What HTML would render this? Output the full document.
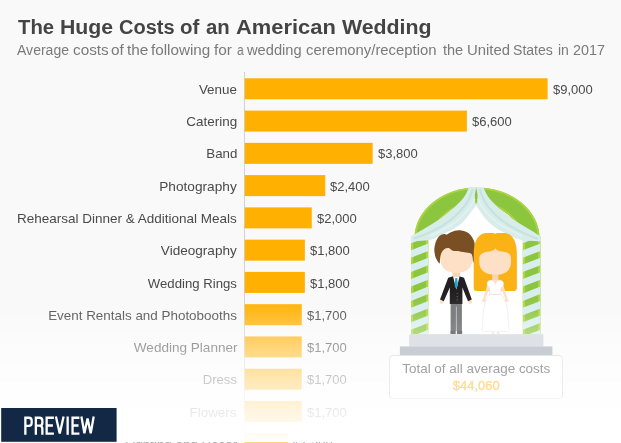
<!DOCTYPE html>
<html><head><meta charset="utf-8"><title>The Huge Costs of an American Wedding</title>
<style>
html,body{margin:0;padding:0;}
body{width:621px;height:443px;overflow:hidden;background:#f9f9f9;position:relative;font-family:"Liberation Sans",sans-serif;}
#t{position:absolute;left:0;top:15.3px;font-size:20px;font-weight:bold;color:#444;line-height:24px}
#t span,#s span{position:absolute;top:0;white-space:nowrap;transform-origin:0 0;will-change:transform}
#s{position:absolute;left:0;top:40.8px;font-size:14px;color:#7a7a7a;line-height:18px}
#ax{position:absolute;left:244px;top:72px;width:1px;height:371px;background:#d2d2d6}
.lb{position:absolute;right:384px;height:21px;line-height:22px;will-change:transform;font-size:13px;color:#4a4a4a;white-space:nowrap;text-align:right;transform-origin:100% 50%}
.bar{position:absolute;left:244.75px;height:21px;background:#ffb000}
.vl{position:absolute;height:21px;line-height:22px;will-change:transform;font-size:13px;color:#4a4a4a;white-space:nowrap}
#il,#il2,#bars{position:absolute;left:0;top:0}
#box{position:absolute;left:388.5px;top:355px;width:172.5px;height:42px;border:1px solid;border-color:#e6e6e6 #ececec #f3f3f3 #ececec;border-radius:4.5px;background:#fff;text-align:center}
#box .a{will-change:transform;font-size:13px;color:#a2a2a2;line-height:16px;margin-top:4.6px;transform:scaleX(1.035)}
#box .b{will-change:transform;font-size:13px;color:#ffdc90;-webkit-text-stroke:0.35px #ffdc90;line-height:16px;margin-top:1.5px}
#fade{position:absolute;left:0;top:291px;width:621px;height:150.5px;background:linear-gradient(to bottom,rgba(255,255,255,0) 0.00%,rgba(255,255,255,0.03) 5.98%,rgba(255,255,255,0.12) 13.95%,rgba(255,255,255,0.47) 37.21%,rgba(255,255,255,0.7) 58.47%,rgba(255,255,255,0.88) 79.73%,rgba(255,255,255,0.97) 97.01%,rgba(255,255,255,1) 100.00%)}
#fade2{position:absolute;left:0;top:441.5px;width:621px;height:2px;background:rgba(255,255,255,0.5)}
#pv{position:absolute;left:0;top:0}
</style></head><body>
<div id="t"><span style="left:17.81px;transform:scaleX(1.0135)">The</span><span style="left:60.15px;transform:scaleX(1.0621)">Huge</span><span style="left:119.17px;transform:scaleX(0.9974)">Costs</span><span style="left:179.78px;transform:scaleX(1.0242)">of</span><span style="left:206.1px;transform:scaleX(1.0178)">an</span><span style="left:236.43px;transform:scaleX(1.0948)">American</span><span style="left:342.37px;transform:scaleX(1.0652)">Wedding</span></div>
<div id="s"><span style="left:16.81px;transform:scaleX(1.0029)">Average</span><span style="left:72.91px;transform:scaleX(1.0932)">costs</span><span style="left:111.16px;transform:scaleX(1.1)">of</span><span style="left:126.86px;transform:scaleX(1.1)">the</span><span style="left:150.64px;transform:scaleX(1.0875)">following</span><span style="left:213.93px;transform:scaleX(1.1)">for</span><span style="left:236.6px;transform:scaleX(0.88)">a</span><span style="left:247.42px;transform:scaleX(1.0478)">wedding</span><span style="left:306.26px;transform:scaleX(1.0616)">ceremony/reception</span><span style="left:442.67px;transform:scaleX(1.0382)">the</span><span style="left:466.94px;transform:scaleX(1.0631)">United</span><span style="left:513.37px;transform:scaleX(1.0047)">States</span><span style="left:557.67px;transform:scaleX(0.98)">in</span><span style="left:573.36px;transform:scaleX(1.0266)">2017</span></div>
<div id="ax"></div>
<div class="lb" style="top:79px;transform:scaleX(1.030)">Venue</div>
<div class="vl" style="top:79px;left:552.7px">$9,000</div>
<div class="lb" style="top:111px;transform:scaleX(1.035)">Catering</div>
<div class="vl" style="top:111px;left:472.0px">$6,600</div>
<div class="lb" style="top:143px;transform:scaleX(1.023)">Band</div>
<div class="vl" style="top:143px;left:377.8px">$3,800</div>
<div class="lb" style="top:176px;transform:scaleX(1.051)">Photography</div>
<div class="vl" style="top:176px;left:330.4px">$2,400</div>
<div class="lb" style="top:208px;transform:scaleX(1.038)">Rehearsal Dinner &amp; Additional Meals</div>
<div class="vl" style="top:208px;left:316.9px">$2,000</div>
<div class="lb" style="top:240px;transform:scaleX(1.043)">Videography</div>
<div class="vl" style="top:240px;left:310.0px">$1,800</div>
<div class="lb" style="top:273px;transform:scaleX(1.013)">Wedding Rings</div>
<div class="vl" style="top:273px;left:310.0px">$1,800</div>
<div class="lb" style="top:305px;transform:scaleX(1.032)">Event Rentals and Photobooths</div>
<div class="vl" style="top:305px;left:306.9px">$1,700</div>
<div class="lb" style="top:337px;transform:scaleX(1.042)">Wedding Planner</div>
<div class="vl" style="top:337px;left:306.9px">$1,700</div>
<div class="lb" style="top:369px;transform:scaleX(1.009)">Dress</div>
<div class="vl" style="top:369px;left:306.9px">$1,700</div>
<div class="lb" style="top:402px;transform:scaleX(1.033)">Flowers</div>
<div class="vl" style="top:402px;left:306.9px">$1,700</div>
<div class="lb" style="top:434px;transform:scaleX(1.028)">Lighting and Decor</div>
<div class="vl" style="top:434px;left:293.4px">$1,300</div>
<svg id="bars" width="621" height="443" viewBox="0 0 621 443"><g fill="#ffb000"><rect x="244.75" y="78.30" width="302.85" height="21"/><rect x="244.75" y="110.57" width="222.10" height="21"/><rect x="244.75" y="142.84" width="127.90" height="21"/><rect x="244.75" y="175.11" width="80.50" height="21"/><rect x="244.75" y="207.38" width="67.00" height="21"/><rect x="244.75" y="239.65" width="60.10" height="21"/><rect x="244.75" y="271.92" width="60.10" height="21"/><rect x="244.75" y="304.19" width="57.00" height="21"/><rect x="244.75" y="336.46" width="57.00" height="21"/><rect x="244.75" y="368.73" width="57.00" height="21"/><rect x="244.75" y="401.00" width="57.00" height="21"/><rect x="244.75" y="433.27" width="43.50" height="21"/></g></svg>
<svg id="il" width="621" height="443" viewBox="0 0 621 443">
<defs>
<clipPath id="cl"><rect x="411" y="236" width="17.3" height="98.3"/></clipPath>
<clipPath id="cr"><rect x="522.8" y="236" width="17.6" height="98.3"/></clipPath>
<linearGradient id="tg" x1="0" y1="0" x2="0" y2="1"><stop offset="0" stop-color="#76777a"/><stop offset="1" stop-color="#515255"/></linearGradient>
</defs>
<!-- interior white -->
<path d="M428 334.3 L428 238 A49 40 0 0 1 523 238 L523 334.3 Z" fill="#fff"/>
<!-- arch -->
<path d="M414.5 238.5 A62.5 51 0 0 1 539.5 238.5 L520 238.5 A43 34.5 0 0 0 434 238.5 Z" fill="#8cc63f"/>
<path d="M415.4 238.5 A61.6 50.1 0 0 1 538.6 238.5" fill="none" stroke="#abd443" stroke-width="1.9"/>
<path d="M432.9 238.5 A44.1 35.6 0 0 1 521.1 238.5" fill="none" stroke="#a9d240" stroke-width="2.2"/>
<!-- columns -->
<g clip-path="url(#cl)">
<rect x="411" y="236" width="18" height="99" fill="#8cc63f"/>
<rect x="411" y="236" width="2.3" height="99" fill="#b0d443"/>
<rect x="426" y="236" width="2.3" height="99" fill="#b0d443"/>
<path fill="#d7eeec" d="M411 243.3 l17.3 -6.8 v-7.5 l-17.3 6.8z M411 257.7 l17.3 -6.8 v-7.5 l-17.3 6.8z M411 272.1 l17.3 -6.8 v-7.5 l-17.3 6.8z M411 286.5 l17.3 -6.8 v-7.5 l-17.3 6.8z M411 300.9 l17.3 -6.8 v-7.5 l-17.3 6.8z M411 315.3 l17.3 -6.8 v-7.5 l-17.3 6.8z M411 329.7 l17.3 -6.8 v-7.5 l-17.3 6.8z M411 344.1 l17.3 -6.8 v-7.5 l-17.3 6.8z M411 358.5 l17.3 -6.8 v-7.5 l-17.3 6.8z "/>
</g>
<g clip-path="url(#cr)">
<rect x="522" y="236" width="19" height="99" fill="#8cc63f"/>
<rect x="522.8" y="236" width="2.3" height="99" fill="#b0d443"/>
<rect x="538.1" y="236" width="2.3" height="99" fill="#b0d443"/>
<path fill="#d7eeec" d="M522.8 243.3 l17.6 -6.8 v-7.5 l-17.6 6.8z M522.8 257.7 l17.6 -6.8 v-7.5 l-17.6 6.8z M522.8 272.1 l17.6 -6.8 v-7.5 l-17.6 6.8z M522.8 286.5 l17.6 -6.8 v-7.5 l-17.6 6.8z M522.8 300.9 l17.6 -6.8 v-7.5 l-17.6 6.8z M522.8 315.3 l17.6 -6.8 v-7.5 l-17.6 6.8z M522.8 329.7 l17.6 -6.8 v-7.5 l-17.6 6.8z M522.8 344.1 l17.6 -6.8 v-7.5 l-17.6 6.8z M522.8 358.5 l17.6 -6.8 v-7.5 l-17.6 6.8z "/>
</g>
<!-- drapes -->
<path d="M469 187 L476.2 187 L474.8 195 L475.2 202.5 L476.2 204.6 C474 208 472 211 469.3 214.3 C467 217.5 464.5 220.5 461.9 223.2 C459.5 225.2 457 227 454.4 228.4 C452 229.7 449.5 231 447 232 C444 233.5 440.5 235.4 437 237.2 C435 238.2 432 239.4 428.5 240.3 L411.3 241.6 L411.3 236 C414 234.6 417 233 419.9 231.2 C422.5 229.8 425 228.3 427.4 226.7 C430 225.3 432.5 223.8 434.8 222.2 C437.5 220.5 440 218.8 442.3 217 C445 215.2 447.5 213.2 449.7 211.1 C452.5 209 455 206.8 457.2 204.4 C460.5 201.5 463.3 198.6 465 195.4 C466.5 193 468 190 469 187 Z" fill="#d8ecea"/>
<path d="M483.4 187 L476.2 187 L477.6 195 L477.2 202.5 L476.2 204.6 C477 206.5 478 208.2 479 209.8 C480.7 212.4 482.4 214.9 484.2 217.2 C486.6 220 489 222.5 491.7 224.7 C494 226.6 496.5 228.4 499.1 229.9 C501.6 231.3 504.2 232.5 507 233.9 C510 235.5 513 237 515.8 238.2 C518 239 520.4 239.7 522.6 240.2 L540.6 241.6 L540.6 236.3 C538 235 535.2 233 532.5 231.2 C530 229.8 527.4 228.3 525 226.7 C522.4 225.3 520 223.8 517.6 222.2 C515 220.5 512.4 218.8 510.1 217 C507.4 215.2 505 213.2 502.7 211.1 C500 209 497.4 206.8 495.2 204.4 C492 201.5 489.1 198.6 487.4 195.4 C485.9 193 484.4 190 483.4 187 Z" fill="#d8ecea"/>
<path d="M472.5 189 C470.5 200 462 211 450 220.5 C440 228 428 234 414 238.6" fill="none" stroke="#c6e2df" stroke-width="2"/>
<path d="M474.6 199 C470 209 462 217.5 452 224.5 C445 229 438 232.5 430 236" fill="none" stroke="#e4f3f1" stroke-width="1.5"/>
<path d="M480 189 C482 200 490 211 502 220.5 C512 228 524 234 538 239" fill="none" stroke="#c6e2df" stroke-width="2"/>
<path d="M477.8 199 C482 209 490 217.5 500 224.5 C507 229 514 232.5 522 236" fill="none" stroke="#e4f3f1" stroke-width="1.5"/>
<!-- groom -->
<rect x="452.6" y="270" width="7.4" height="9" fill="#f9d3b4"/>
<path d="M440.4 246 L472.4 246 L472.4 259 C472.4 268 466 273 456.5 273 C447 273 440.4 268 440.4 259 Z" fill="#fde0c5"/>
<path d="M439.3 263.5 C438.6 262.9 436.4 259.6 435.6 257.3 C434.8 255.0 434.3 252.3 434.3 249.8 C434.3 247.3 435.0 244.5 435.6 242.4 C436.2 240.3 437.2 238.7 438.1 237.4 C439.0 236.1 440.2 235.3 441.2 234.7 C442.2 234.1 443.4 233.9 444.3 233.9 C445.2 233.9 446.0 234.8 446.9 234.6 C447.8 234.4 448.6 233.3 449.9 232.7 C451.2 232.1 453.1 231.2 454.8 230.8 C456.5 230.4 457.9 230.0 459.8 230.2 C461.7 230.4 464.1 230.9 466.0 231.8 C467.9 232.7 469.6 233.9 470.9 235.5 C472.2 237.1 473.3 239.1 474.0 241.1 C474.7 243.1 474.8 244.8 474.9 247.3 C475.0 249.8 475.0 253.4 474.7 256.0 C474.4 258.6 473.6 262.7 473.2 262.8 C472.8 262.9 472.9 258.2 472.4 256.6 C471.9 255.0 472.2 254.1 470.3 253.3 C468.4 252.5 463.6 252.1 461.0 251.7 C458.4 251.3 456.4 251.3 454.8 251.1 C453.2 250.8 452.7 250.7 451.7 250.2 C450.7 249.7 449.7 248.3 448.6 248.1 C447.5 247.9 446.0 248.1 444.9 248.8 C443.8 249.5 442.5 251.1 441.8 252.3 C441.1 253.5 440.8 254.6 440.5 256.0 C440.2 257.4 440.1 259.8 439.9 261.0 C439.7 262.2 440.0 264.1 439.3 263.5 Z" fill="#7a4f24"/>
<circle cx="441.7" cy="301.8" r="2.1" fill="#fde0c5"/><circle cx="470.1" cy="301.8" r="2.1" fill="#fde0c5"/>
<path d="M452.4 276.5 L448.2 277.8 L440 299.4 L443.8 301.2 L449.8 287.5 L449.8 304 L462.4 304 L462.4 287.5 L468 301.2 L471.8 299.4 L464 277.8 L460 276.5 Z" fill="#231f20"/>
<path d="M453 276.3 L456.3 289.5 L459.6 276.3 Z" fill="#fff"/>
<path d="M455.3 278 h2 l0.6 7.6 l-1.6 3.4 l-1.6 -3.4z" fill="#1ea7c5"/><circle cx="457.2" cy="293.5" r="0.6" fill="#6d6e71"/><circle cx="457.2" cy="296.7" r="0.6" fill="#6d6e71"/><circle cx="457.2" cy="299.9" r="0.6" fill="#6d6e71"/>
<rect x="450.6" y="304" width="11.3" height="27" fill="url(#tg)"/>
<rect x="455.9" y="306.5" width="0.8" height="24.5" fill="#c4c5c7"/>
<rect x="450.4" y="330.8" width="5.3" height="3.4" fill="#3a3a3d"/><rect x="456.9" y="330.8" width="5.3" height="3.4" fill="#3a3a3d"/>
<!-- bride -->
<path d="M473.7 254 C473.7 240 479 233 487 233 L493 233 C494 233 494.8 233.4 495.4 234 C496 233.4 496.8 233 498 233 L503.5 233 C511.5 233 516.9 240 516.9 254 L516.9 288 C516.9 290 515.8 290.9 514 290.9 L476.6 290.9 C474.8 290.9 473.7 290 473.7 288 Z" fill="#fbb216"/>
<rect x="492.2" y="272" width="6.2" height="9.5" fill="#f9d3b4"/>
<path d="M479.3 258 C479.6 254 483 252.6 487 251.8 C490.5 251.2 493.6 250.6 494.6 249.4 C495 248.9 495.2 248.4 495.4 247.9 C495.6 248.4 495.8 248.9 496.2 249.4 C497.2 250.6 500.5 251.2 504 251.8 C508 252.6 510.7 254 511 258 L511 262 C511 270.5 505 274.8 495.2 274.8 C485.5 274.8 479.3 270.5 479.3 262 Z" fill="#fde0c5"/>
<path d="M488.4 281.6 L492.2 279.8 L498.4 279.8 L502.2 281.6 L507.4 298.6 L505.6 299.4 L500.8 287.5 L489.8 287.5 L485 299.4 L483.2 298.6 Z" fill="#fde0c5"/>
<circle cx="484" cy="300.3" r="1.9" fill="#fde0c5"/><circle cx="506.6" cy="300.3" r="1.9" fill="#fde0c5"/>
<path d="M487.4 282.2 C488.5 280.6 490.5 279.8 492 280.6 C493.5 281.2 494.6 282.6 495.3 284.4 C496 282.6 497.1 281.2 498.6 280.6 C500.1 279.8 502.1 280.6 503.2 282.2 C503.8 284 503.2 286 502.2 287.4 L501.2 287.2 L501 294.4 C505 298.5 507.4 306 508.1 316 L508.9 329.6 C509 331 508.3 331.5 506.8 331.5 L484.3 331.5 C482.8 331.5 482.1 331 482.2 329.6 L483 316 C483.7 306 486 298.5 489.6 294.4 L489.4 287.2 L488.4 287.4 C487.4 286 486.8 284 487.4 282.2 Z" fill="#fff" stroke="#e6e7e9" stroke-width="0.7"/>
<path d="M489.6 294.4 L501 294.4" stroke="#e3e4e6" stroke-width="0.8"/>
<rect x="491.7" y="331.8" width="2.3" height="2.3" fill="#fde0c5"/><rect x="497.1" y="331.8" width="2.3" height="2.3" fill="#fde0c5"/>
</svg>

<div id="fade"></div><div id="fade2"></div>
<svg id="il2" width="621" height="443" viewBox="0 0 621 443">
<rect x="409.2" y="334.2" width="134.2" height="12.3" fill="#dee1e5"/>
<rect x="399.9" y="346.4" width="152.5" height="9.2" fill="#c8cdd3"/>
</svg>
<div id="box"><div class="a">Total of all average costs</div><div class="b">$44,060</div></div>
<svg id="pv" width="621" height="443" viewBox="0 0 621 443">
<rect x="1.2" y="408" width="115.4" height="33.8" fill="#122844"/>
<g fill="none" stroke="#fff" stroke-width="2.3" stroke-linejoin="miter" stroke-miterlimit="3">
<path d="M25.35 434.8 V417.75 H28.8 Q31.65 417.75 31.65 420.6 V423 Q31.65 425.9 28.8 425.9 H25.35"/>
<path d="M35.85 434.8 V417.75 H39.5 Q42.35 417.75 42.35 420.6 V422.9 Q42.35 425.7 39.5 425.7 H35.85 M39.2 425.7 Q42.35 425.8 42.35 428.8 V434.8"/>
<path d="M53.9 417.75 H46.65 V433.55 H53.9 M46.65 425.5 H52.9"/>
<path d="M55.9 416.5 L59.75 433.5 L63.6 416.5"/>
<path d="M67.65 416.5 V434.8"/>
<path d="M79.4 417.75 H72.55 V433.55 H79.4 M72.55 425.5 H78.5"/>
<path d="M81.4 416.5 L84.4 433.3 L87.55 418.5 L90.7 433.3 L93.7 416.5"/>
</g>
</svg>
</body></html>
